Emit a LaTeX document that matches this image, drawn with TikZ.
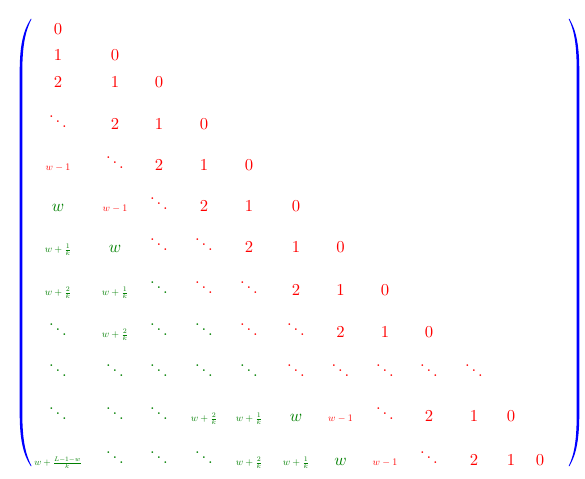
\documentclass[tikz,border=0pt]{standalone}
\usepackage{graphicx}
\definecolor{grn}{RGB}{0,128,0}
\definecolor{parblue}{RGB}{0,0,255}
\tikzset{
  R/.style={text=red, anchor=base, inner sep=0pt},
  G/.style={text=grn, anchor=base, inner sep=0pt},
  paren/.style={fill=parblue, draw=none}
}
\newcommand\mxe[4]{%
  \pgfmathsetmacro\ex{{58,115,159,204,249,296,340.5,385,429,474,511,540}[#2-1]}%
  \pgfmathsetmacro\ey{{28.7,55.5,82,124,165,206,247,290,332,373,416,460}[#1-1]+5.4}%
  \node[#3] (m-#1-#2) at (\ex,\ey) {#4};}
\newcommand\sm[1]{\scalebox{0.6}{$#1$}}
\newcommand\wa{\sm{w+\frac{1}{k}}}
\newcommand\wb{\sm{w+\frac{2}{k}}}
\newcommand\wm{\sm{w-1}}
\newcommand\dd{$\ddots$}
\begin{document}
\begin{tikzpicture}[x=0.6pt,y=-0.6pt]
\useasboundingbox[fill=white] (0,0) rectangle (585,478);
% parentheses
\path[paren] (30.7,19) .. controls (23,31) and (19.7,46) .. (19.7,72) -- (19.7,413)
  .. controls (19.7,439) and (23,454) .. (30.7,466)
  -- (31.5,466) .. controls (25.3,454) and (22.3,439) .. (22.3,413) -- (22.3,72)
  .. controls (22.3,46) and (25.3,31) .. (31.5,19) -- cycle;
\path[paren] (569.5,19) .. controls (576.5,31) and (579.3,46) .. (579.3,72) -- (579.3,413)
  .. controls (579.3,439) and (576.5,454) .. (569.5,466)
  -- (568.7,466) .. controls (574.6,454) and (576.7,439) .. (576.7,413) -- (576.7,72)
  .. controls (576.7,46) and (574.6,31) .. (568.7,19) -- cycle;
% row 1
\mxe{1}{1}{R}{$0$}
% row 2
\mxe{2}{1}{R}{$1$}\mxe{2}{2}{R}{$0$}
% row 3
\mxe{3}{1}{R}{$2$}\mxe{3}{2}{R}{$1$}\mxe{3}{3}{R}{$0$}
% row 4
\mxe{4}{1}{R}{\dd}\mxe{4}{2}{R}{$2$}\mxe{4}{3}{R}{$1$}\mxe{4}{4}{R}{$0$}
% row 5
\mxe{5}{1}{R}{\wm}\mxe{5}{2}{R}{\dd}\mxe{5}{3}{R}{$2$}\mxe{5}{4}{R}{$1$}\mxe{5}{5}{R}{$0$}
% row 6
\mxe{6}{1}{G}{$w$}\mxe{6}{2}{R}{\wm}\mxe{6}{3}{R}{\dd}\mxe{6}{4}{R}{$2$}\mxe{6}{5}{R}{$1$}\mxe{6}{6}{R}{$0$}
% row 7
\mxe{7}{1}{G}{\wa}\mxe{7}{2}{G}{$w$}\mxe{7}{3}{R}{\dd}\mxe{7}{4}{R}{\dd}\mxe{7}{5}{R}{$2$}\mxe{7}{6}{R}{$1$}\mxe{7}{7}{R}{$0$}
% row 8
\mxe{8}{1}{G}{\wb}\mxe{8}{2}{G}{\wa}\mxe{8}{3}{G}{\dd}\mxe{8}{4}{R}{\dd}\mxe{8}{5}{R}{\dd}\mxe{8}{6}{R}{$2$}\mxe{8}{7}{R}{$1$}\mxe{8}{8}{R}{$0$}
% row 9
\mxe{9}{1}{G}{\dd}\mxe{9}{2}{G}{\wb}\mxe{9}{3}{G}{\dd}\mxe{9}{4}{G}{\dd}\mxe{9}{5}{R}{\dd}\mxe{9}{6}{R}{\dd}\mxe{9}{7}{R}{$2$}\mxe{9}{8}{R}{$1$}\mxe{9}{9}{R}{$0$}
% row 10
\mxe{10}{1}{G}{\dd}\mxe{10}{2}{G}{\dd}\mxe{10}{3}{G}{\dd}\mxe{10}{4}{G}{\dd}\mxe{10}{5}{G}{\dd}
\mxe{10}{6}{R}{\dd}\mxe{10}{7}{R}{\dd}\mxe{10}{8}{R}{\dd}\mxe{10}{9}{R}{\dd}\mxe{10}{10}{R}{\dd}
% row 11
\mxe{11}{1}{G}{\dd}\mxe{11}{2}{G}{\dd}\mxe{11}{3}{G}{\dd}\mxe{11}{4}{G}{\wb}\mxe{11}{5}{G}{\wa}\mxe{11}{6}{G}{$w$}
\mxe{11}{7}{R}{\wm}\mxe{11}{8}{R}{\dd}\mxe{11}{9}{R}{$2$}\mxe{11}{10}{R}{$1$}\mxe{11}{11}{R}{$0$}
% row 12
\mxe{12}{1}{G}{\scalebox{0.57}{$w+\frac{L-1-w}{k}$}}\mxe{12}{2}{G}{\dd}\mxe{12}{3}{G}{\dd}\mxe{12}{4}{G}{\dd}\mxe{12}{5}{G}{\wb}\mxe{12}{6}{G}{\wa}
\mxe{12}{7}{G}{$w$}\mxe{12}{8}{R}{\wm}\mxe{12}{9}{R}{\dd}\mxe{12}{10}{R}{$2$}\mxe{12}{11}{R}{$1$}\mxe{12}{12}{R}{$0$}
\end{tikzpicture}
\end{document}
